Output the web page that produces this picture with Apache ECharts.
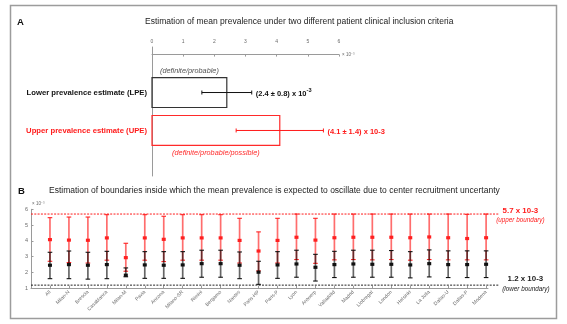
<!DOCTYPE html>
<html>
<head>
<meta charset="utf-8">
<script src="https://cdn.jsdelivr.net/npm/echarts@6/dist/echarts.min.js"></script>
<style>
  html, body { margin: 0; padding: 0; background: #fff; }
  #chart { width: 567px; height: 324px; }
</style>
</head>
<body>
<div id="chart"></div>
<script>
// ---- Panel A: mean prevalence (x 10^-3) under two inclusion criteria ----
const estimateNames = ['Lower prevalence estimate (LPE)', 'Upper prevalence estimate (UPE)'];
const estimateCriteria = ['(definite/probable)', '(definite/probable/possible)'];
const estimateMeans = [2.4, 4.1];
const estimateSD = [0.8, 1.4];
const estimateTexts = ['{v|(2.4 ± 0.8) x 10}{s|-3}', '{v|(4.1 ± 1.4) x 10-3}'];
const panelATicks = ['0', '1', '2', '3', '4', '5', '6'];

// ---- Panel B: per-centre boundaries of the mean prevalence (x 10^-3) ----
const centres = ['All', 'Milan-N', 'Brescia', 'Casablanca', 'Milan-M', 'Pavia', 'Ancona', 'Milano-SR',
  'Rimini', 'Bergamo', 'Nantes', 'Paris-HP', 'Paris-P', 'Lyon', 'Antwerp', 'Valladolid', 'Madrid',
  'Llobregat', 'London', 'Helsinki', 'La Jolla', 'Dallas-U', 'Dallas-P', 'Modena'];

// upper prevalence estimate (red)
const upeMean = [4.08, 4.05, 4.04, 4.19, 2.94, 4.19, 4.10, 4.19, 4.19, 4.19, 4.03, 3.36,
  4.03, 4.23, 4.05, 4.20, 4.23, 4.23, 4.23, 4.20, 4.25, 4.20, 4.15, 4.20];
const upeLow = [2.71, 2.63, 2.60, 2.78, 2.08, 2.78, 2.69, 2.78, 2.78, 2.78, 2.60, 2.10,
  2.60, 2.82, 2.58, 2.80, 2.82, 2.80, 2.82, 2.78, 2.82, 2.80, 2.80, 2.80];
const upeHigh = [5.47, 5.51, 5.51, 5.66, 3.85, 5.66, 5.56, 5.66, 5.66, 5.66, 5.43, 4.57,
  5.43, 5.70, 5.43, 5.70, 5.70, 5.70, 5.70, 5.70, 5.70, 5.70, 5.68, 5.70];

// lower prevalence estimate (black)
const lpeMean = [2.46, 2.50, 2.46, 2.50, 1.83, 2.48, 2.46, 2.48, 2.56, 2.56, 2.46, 2.02,
  2.48, 2.54, 2.33, 2.50, 2.54, 2.52, 2.52, 2.48, 2.56, 2.50, 2.50, 2.52];
const lpeLow = [1.61, 1.61, 1.58, 1.61, 1.73, 1.63, 1.63, 1.63, 1.70, 1.70, 1.61, 1.25,
  1.63, 1.70, 1.46, 1.68, 1.70, 1.70, 1.70, 1.66, 1.72, 1.68, 1.68, 1.68];
const lpeHigh = [3.28, 3.36, 3.28, 3.34, 2.29, 3.32, 3.32, 3.32, 3.41, 3.41, 3.30, 2.71,
  3.32, 3.41, 3.15, 3.34, 3.41, 3.41, 3.39, 3.32, 3.43, 3.37, 3.37, 3.37];

const boundaryValues = [5.7, 1.2];
const boundaryTexts = ['5.7 x 10-3', '1.2 x 10-3'];
const boundaryNotes = ['(upper boundary)', '(lower boundary)'];
const panelBTicks = ['1', '2', '3', '4', '5', '6'];

// ---- styling ----
const FONT = '"Liberation Sans", Arial, Helvetica, sans-serif';
const RED = '#ff1a1a';
const AXIS = '#9a9a9a';
const TICKTXT = '#6a6a6a';
const rowColors = ['#111111', RED];
const boxColors = ['#333333', '#ff2a2a'];
const criteriaColors = ['#555555', '#ff2a2a'];
const boundaryColors = [RED, '#222222'];
const xEnd = 24.7;   // dashed boundaries run slightly beyond the last centre

const chart = echarts.init(document.getElementById('chart'), null, { renderer: 'canvas' });

function renderEstimate(params, api) {
  const i = params.dataIndex;
  const row = api.value(0), mean = api.value(1), sd = api.value(2);
  const color = rowColors[i];
  const o = api.coord([0, row]);
  const e = api.coord([mean, row]);
  const lo = api.coord([mean - sd, row]);
  const hi = api.coord([mean + sd, row]);
  const h = api.size([0, 0.79])[1];
  const cy = o[1];
  const capStyle = { stroke: color, lineWidth: 1 };
  return {
    type: 'group',
    children: [
      { type: 'rect', shape: { x: o[0], y: cy - h / 2, width: e[0] - o[0], height: h },
        style: { fill: 'none', stroke: boxColors[i], lineWidth: 1.2 } },
      { type: 'line', shape: { x1: lo[0], y1: cy, x2: hi[0], y2: cy }, style: capStyle },
      { type: 'line', shape: { x1: lo[0], y1: cy - 2, x2: lo[0], y2: cy + 2 }, style: capStyle },
      { type: 'line', shape: { x1: hi[0], y1: cy - 2, x2: hi[0], y2: cy + 2 }, style: capStyle },
      { type: 'text', x: o[0] - 5, y: cy,
        style: { text: estimateNames[i], align: 'right', verticalAlign: 'middle', fill: color,
          font: 'bold 7.7px ' + FONT } },
      { type: 'text', x: (o[0] + e[0]) / 2, y: i === 0 ? cy - h / 2 - 6.5 : cy + h / 2 + 8,
        style: { text: estimateCriteria[i], align: 'center', verticalAlign: 'middle',
          fill: criteriaColors[i], font: 'italic 7.3px ' + FONT } },
      { type: 'text', x: hi[0] + 4, y: cy,
        style: { text: estimateTexts[i], align: 'left', verticalAlign: 'middle',
          rich: {
            v: { fontFamily: FONT, fontWeight: 'bold', fontSize: 7.5, fill: color, lineHeight: 11, verticalAlign: 'bottom' },
            s: { fontFamily: FONT, fontWeight: 'bold', fontSize: 5.6, fill: color, lineHeight: 6, verticalAlign: 'top' }
          } } }
    ]
  };
}

function errorRenderer(lineColor, capColor, markColor) {
  return function (params, api) {
    const x = api.value(0);
    const lo = api.coord([x, api.value(1)]);
    const mid = api.coord([x, api.value(2)]);
    const hi = api.coord([x, api.value(3)]);
    const c = 2.3;
    return {
      type: 'group',
      children: [
        { type: 'line', shape: { x1: lo[0], y1: lo[1], x2: hi[0], y2: hi[1] },
          style: { stroke: lineColor, lineWidth: 1.7 } },
        { type: 'line', shape: { x1: lo[0] - c, y1: lo[1], x2: lo[0] + c, y2: lo[1] },
          style: { stroke: capColor, lineWidth: 1.1 } },
        { type: 'line', shape: { x1: hi[0] - c, y1: hi[1], x2: hi[0] + c, y2: hi[1] },
          style: { stroke: capColor, lineWidth: 1.1 } },
        { type: 'rect', shape: { x: mid[0] - 2, y: mid[1] - 1.6, width: 4, height: 3.2 },
          style: { fill: markColor } }
      ]
    };
  };
}

function renderBoundary(params, api) {
  const i = params.dataIndex;
  const v = api.value(0);
  const a = api.coord([0, v]);
  const b = api.coord([xEnd, v]);
  const color = boundaryColors[i];
  const up = i === 0;
  return {
    type: 'group',
    children: [
      { type: 'line', shape: { x1: a[0], y1: a[1], x2: b[0], y2: b[1] },
        style: { stroke: color, lineWidth: 1, lineDash: [2, 1.3] } },
      { type: 'text', x: b[0] + (up ? 21 : 26), y: a[1] + (up ? -3.5 : -6.5),
        style: { text: boundaryTexts[i], align: 'center', verticalAlign: 'middle', fill: color,
          font: 'bold 7.9px ' + FONT } },
      { type: 'text', x: b[0] + (up ? 21 : 26.5), y: a[1] + (up ? 6.7 : 3.8),
        style: { text: boundaryNotes[i], align: 'center', verticalAlign: 'middle', fill: color,
          font: 'italic 6.3px ' + FONT } }
    ]
  };
}

const estimateData = estimateMeans.map((m, i) => [i + 1, m, estimateSD[i]]);
const upeData = centres.map((c, i) => [i + 1, upeLow[i], upeMean[i], upeHigh[i]]);
const lpeData = centres.map((c, i) => [i + 1, lpeLow[i], lpeMean[i], lpeHigh[i]]);

const option = {
  backgroundColor: '#fff',
  animation: false,
  textStyle: { fontFamily: FONT },
  grid: [
    { left: 152, right: 228, top: 47, bottom: 148 },
    { left: 31, right: 79, top: 209.3, bottom: 35.7 }
  ],
  xAxis: [
    {
      gridIndex: 0, type: 'value', position: 'top', min: 0, max: 6, interval: 1,
      axisLine: { show: true, lineStyle: { color: AXIS, width: 1 } },
      axisTick: { show: true, inside: true, length: 2, lineStyle: { color: AXIS } },
      axisLabel: { color: TICKTXT, fontSize: 5, margin: 3, formatter: v => panelATicks[v] },
      splitLine: { show: false },
      name: '× 10⁻³', nameLocation: 'end', nameGap: 3,
      nameTextStyle: { color: TICKTXT, fontSize: 4.5, verticalAlign: 'middle' }
    },
    {
      gridIndex: 1, type: 'value', min: 0, max: 24.1, interval: 1,
      axisLine: { show: true, lineStyle: { color: AXIS, width: 1 } },
      axisTick: { show: true, inside: true, length: 2.5, lineStyle: { color: AXIS } },
      axisLabel: {
        color: TICKTXT, fontSize: 5, rotate: 45, margin: 3,
        showMaxLabel: false,
        formatter: v => (Number.isInteger(v) && v >= 1 && v <= centres.length) ? centres[v - 1] : ''
      },
      splitLine: { show: false }
    }
  ],
  yAxis: [
    {
      gridIndex: 0, type: 'value', min: -0.2, max: 3.2, inverse: true,
      axisLine: { show: true, onZero: false, lineStyle: { color: AXIS, width: 1 } },
      axisTick: { show: false }, axisLabel: { show: false }, splitLine: { show: false }
    },
    {
      gridIndex: 1, type: 'value', min: 1, max: 6, interval: 1,
      axisLine: { show: true, onZero: false, lineStyle: { color: AXIS, width: 1 } },
      axisTick: { show: true, inside: true, length: 2.5, lineStyle: { color: AXIS } },
      axisLabel: { color: TICKTXT, fontSize: 5.5, margin: 3, formatter: v => panelBTicks[v - 1] },
      splitLine: { show: false },
      name: '× 10⁻³', nameLocation: 'end', nameGap: 1,
      nameTextStyle: { color: TICKTXT, fontSize: 4.5, align: 'left', padding: [0, 0, -2, 1] }
    }
  ],
  graphic: [
    { type: 'rect', shape: { x: 10.5, y: 5.5, width: 546, height: 313 },
      style: { fill: 'none', stroke: '#9c9c9c', lineWidth: 1.5 }, silent: true },
    { type: 'text', left: 17, top: 17,
      style: { text: 'A', font: 'bold 9.5px ' + FONT, fill: '#111' } },
    { type: 'text', left: 145, top: 17.5,
      style: { text: 'Estimation of mean prevalence under two different patient clinical inclusion criteria',
        font: '8.5px ' + FONT, fill: '#222' } },
    { type: 'text', left: 18, top: 186,
      style: { text: 'B', font: 'bold 9.5px ' + FONT, fill: '#111' } },
    { type: 'text', left: 49, top: 186.5,
      style: { text: 'Estimation of boundaries inside which the mean prevalence is expected to oscillate due to center recruitment uncertanty',
        font: '8.5px ' + FONT, fill: '#222' } }
  ],
  series: [
    {
      type: 'custom', name: 'estimates', xAxisIndex: 0, yAxisIndex: 0,
      renderItem: renderEstimate, data: estimateData
    },
    {
      type: 'custom', name: 'boundaries', xAxisIndex: 1, yAxisIndex: 1,
      renderItem: renderBoundary, data: boundaryValues.map(v => [v]),
      encode: { y: 0 }
    },
    {
      type: 'custom', name: 'UPE', xAxisIndex: 1, yAxisIndex: 1,
      renderItem: errorRenderer('rgba(255,20,20,0.62)', '#ff2020', '#ff2020'),
      data: upeData, encode: { x: 0, y: [1, 2, 3] }
    },
    {
      type: 'custom', name: 'LPE', xAxisIndex: 1, yAxisIndex: 1,
      renderItem: errorRenderer('rgba(0,0,0,0.6)', '#111', '#111'),
      data: lpeData, encode: { x: 0, y: [1, 2, 3] }
    }
  ]
};

chart.setOption(option);
</script>
</body>
</html>
